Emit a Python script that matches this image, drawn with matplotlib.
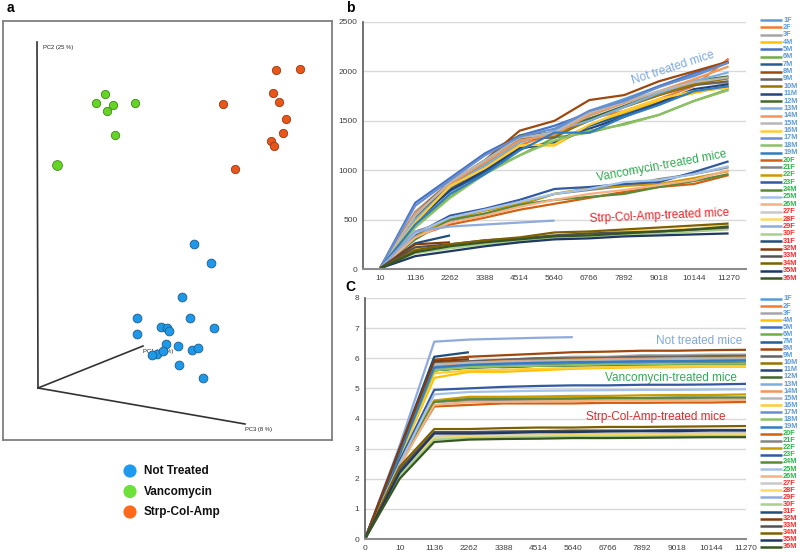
import numpy as np
import matplotlib
matplotlib.use("Agg")
import matplotlib.pyplot as plt

plt.rcParams['font.family'] = ['Liberation Sans', 'DejaVu Sans']

# ---------------- data ----------------
# Panel a: projected PCoA positions (view coordinates)
nt_x = [194, 211, 182, 137, 137, 161, 167, 169, 190, 214, 166, 178, 192, 198, 157, 163, 179, 203, 152]
nt_y = [244, 263, 297, 318, 334, 327, 328, 331, 318, 328, 344, 346, 350, 348, 354, 351, 365, 378, 355]
vanco_x = [105, 96, 113, 107, 135, 115, 57]
vanco_y = [94, 103, 105, 111, 103, 135, 165]
strp_x = [223, 235, 276, 300, 273, 279, 286, 283, 271, 274]
strp_y = [104, 169, 70, 69, 93, 102, 119, 133, 141, 146]
group_names = ["Not Treated", "Vancomycin", "Strp-Col-Amp"]

# Panels b / c
labels = ["1F", "2F", "3F", "4M", "5M", "6M", "7M", "8M", "9M", "10M", "11M", "12M",
          "13M", "14M", "15M", "16M", "17M", "18M", "19M", "20F", "21F", "22F", "23F",
          "24M", "25M", "26M", "27F", "28F", "29F", "30F", "31F", "32M", "33M", "34M",
          "35M", "36M"]
series_colors = ["#5B9BD5", "#ED7D31", "#A5A5A5", "#FFC000", "#4472C4", "#70AD47",
                 "#255E91", "#9E480E", "#636363", "#997300", "#264478", "#43682B",
                 "#7CAFDD", "#F1975A", "#B7B7B7", "#FFCD33", "#698ED0", "#8CC168",
                 "#327DC2", "#D26012", "#848484", "#CC9A00", "#335AA1", "#5A8A39",
                 "#A2C2E7", "#F4B183", "#C9C9C9", "#FFD966", "#8FAADC", "#A9D18E",
                 "#1E4E79", "#843C0C", "#525252", "#7F6000", "#203864", "#375623"]
groups = ["nt"] * 19 + ["v"] * 7 + ["s"] * 10

depth_b = ["10", "1136", "2262", "3388", "4514", "5640", "6766", "7892", "9018", "10144", "11270"]
depth_c = ["0", "10", "1136", "2262", "3388", "4514", "5640", "6766", "7892", "9018", "10144", "11270"]

N = None
observed = [
    [15, 520, 820, 1040, 1280, 1400, 1600, 1720, 1850, 1950, 2090],
    [12, 560, 850, 1060, 1250, 1380, 1520, 1600, 1720, 1850, 2130],
    [14, 580, 880, 1080, 1320, 1350, 1550, 1680, 1800, 1880, 1880],
    [12, 480, 800, 1000, 1250, 1250, 1450, 1580, 1700, 1780, 1850],
    [15, 670, 920, 1170, 1350, 1450, 1580, 1700, 1850, 1980, 2100],
    [12, 450, 730, 980, 1150, 1330, 1380, 1470, 1560, 1700, 1820],
    [13, 510, 790, 980, 1220, 1280, 1450, 1560, 1680, 1800, 1840],
    [15, 560, 880, 1100, 1400, 1500, 1710, 1760, 1900, 2000, 2100],
    [13, 520, 850, 1080, 1320, 1330, 1520, 1640, 1760, 1860, 1900],
    [12, 500, 820, 1050, 1300, 1350, 1500, 1640, 1760, 1870, 1930],
    [13, 470, 800, 1000, 1220, 1280, 1420, 1540, 1680, 1820, 1870],
    [14, 540, 870, 1100, 1350, 1380, 1520, 1650, 1780, 1900, 1950],
    [12, 500, 830, 1050, 1280, 1400, 1500, 1640, 1780, 1900, 1990],
    [14, 560, 860, 1080, 1300, 1360, 1560, 1680, 1800, 1920, 2050],
    [13, 540, 880, 1100, 1330, 1380, 1580, 1690, 1800, 1890, 1940],
    [12, 470, 840, 1020, 1250, 1260, 1460, 1600, 1720, 1800, 1830],
    [15, 640, 900, 1150, 1340, 1420, 1600, 1700, 1840, 1960, 2090],
    [12, 420, 720, 960, 1150, 1300, 1400, 1460, 1560, 1700, 1810],
    [13, 450, 760, 960, 1200, 1380, 1380, 1540, 1660, 1800, 1850],
    [10, 330, 450, 520, 600, 660, 720, 780, 830, 860, 950],
    [10, 380, 490, 560, 650, 760, 800, 840, 910, 960, 1030],
    [10, 340, 510, 590, 660, 760, 820, 840, 860, 920, 990],
    [10, 350, 540, 610, 700, 810, 830, 860, 880, 980, 1090],
    [10, 300, 500, 560, 650, 700, 730, 760, 830, 890, 960],
    [10, 360, 520, 600, 680, 760, 810, 880, 900, 960, 1040],
    [10, 320, 470, 540, 630, 700, 760, 800, 850, 900, 1000],
    [8, 180, 220, 260, 290, 330, 340, 360, 370, 390, 420],
    [8, 200, 230, 280, 300, 340, 360, 380, 390, 410, 440],
    [8, 380, 430, 450, 470, 490, N, N, N, N, N],
    [8, 160, 210, 250, 280, 320, 330, 350, 360, 380, 400],
    [8, 260, 340, N, N, N, N, N, N, N, N],
    [8, 250, 270, N, N, N, N, N, N, N, N],
    [8, 220, 250, 290, 310, 340, 360, 370, 380, 400, 420],
    [8, 190, 250, 290, 320, 370, 380, 400, 420, 440, 460],
    [8, 130, 180, 230, 270, 300, 310, 330, 340, 350, 360],
    [8, 170, 230, 270, 300, 330, 340, 360, 380, 400, 430],
]
shannon = [
    [0, 2.9, 5.75, 5.85, 5.9, 5.95, 6.0, 6.0, 6.02, 6.03, 6.05, 6.05],
    [0, 2.9, 5.7, 5.8, 5.85, 5.9, 5.9, 5.92, 5.95, 5.95, 5.97, 5.98],
    [0, 2.8, 5.8, 5.9, 5.95, 6.0, 6.05, 6.05, 6.1, 6.1, 6.12, 6.12],
    [0, 2.7, 5.35, 5.55, 5.55, 5.6, 5.65, 5.68, 5.7, 5.7, 5.72, 5.72],
    [0, 2.9, 5.75, 5.8, 5.85, 5.85, 5.9, 5.9, 5.92, 5.93, 5.95, 5.95],
    [0, 2.8, 5.6, 5.7, 5.72, 5.75, 5.78, 5.8, 5.82, 5.82, 5.83, 5.84],
    [0, 2.9, 5.65, 5.75, 5.7, 5.75, 5.78, 5.8, 5.8, 5.82, 5.82, 5.83],
    [0, 3.0, 5.95, 6.05, 6.1, 6.15, 6.2, 6.22, 6.25, 6.25, 6.27, 6.28],
    [0, 2.9, 5.85, 5.9, 5.95, 6.0, 6.0, 6.02, 6.05, 6.05, 6.07, 6.08],
    [0, 2.8, 5.8, 5.85, 5.9, 5.95, 5.95, 5.98, 6.0, 6.0, 6.02, 6.02],
    [0, 2.9, 5.6, 5.7, 5.75, 5.78, 5.8, 5.8, 5.82, 5.82, 5.84, 5.85],
    [0, 2.8, 5.6, 5.68, 5.72, 5.75, 5.75, 5.77, 5.78, 5.8, 5.8, 5.8],
    [0, 2.9, 5.7, 5.8, 5.85, 5.9, 5.92, 5.95, 5.97, 5.98, 6.0, 6.0],
    [0, 2.8, 5.75, 5.85, 5.9, 5.92, 5.95, 5.97, 5.98, 6.0, 6.0, 6.02],
    [0, 2.8, 5.8, 5.85, 5.88, 5.9, 5.92, 5.95, 5.95, 5.97, 5.98, 5.98],
    [0, 2.7, 5.5, 5.6, 5.62, 5.65, 5.68, 5.7, 5.72, 5.73, 5.74, 5.75],
    [0, 2.9, 5.65, 5.75, 5.8, 5.82, 5.85, 5.87, 5.88, 5.9, 5.9, 5.92],
    [0, 2.8, 5.6, 5.7, 5.73, 5.75, 5.77, 5.8, 5.8, 5.82, 5.82, 5.83],
    [0, 2.8, 5.7, 5.78, 5.82, 5.85, 5.87, 5.88, 5.9, 5.9, 5.92, 5.93],
    [0, 2.5, 4.4, 4.45, 4.5, 4.5, 4.5, 4.52, 4.52, 4.53, 4.53, 4.55],
    [0, 2.5, 4.55, 4.6, 4.62, 4.62, 4.63, 4.63, 4.64, 4.65, 4.65, 4.65],
    [0, 2.6, 4.6, 4.72, 4.72, 4.73, 4.75, 4.75, 4.77, 4.78, 4.78, 4.8],
    [0, 2.6, 4.95, 5.0, 5.05, 5.08, 5.1, 5.1, 5.12, 5.12, 5.13, 5.15],
    [0, 2.5, 4.55, 4.65, 4.65, 4.66, 4.67, 4.68, 4.68, 4.7, 4.7, 4.7],
    [0, 2.5, 4.8, 4.88, 4.9, 4.92, 4.93, 4.94, 4.95, 4.95, 4.96, 4.97],
    [0, 2.4, 4.45, 4.55, 4.55, 4.57, 4.58, 4.6, 4.6, 4.6, 4.62, 4.62],
    [0, 2.2, 3.4, 3.45, 3.47, 3.48, 3.5, 3.5, 3.5, 3.52, 3.52, 3.53],
    [0, 2.3, 3.35, 3.4, 3.42, 3.43, 3.45, 3.45, 3.46, 3.47, 3.47, 3.48],
    [0, 3.1, 6.55, 6.62, 6.65, 6.68, 6.7, N, N, N, N, N],
    [0, 2.1, 3.3, 3.35, 3.37, 3.38, 3.4, 3.4, 3.4, 3.42, 3.42, 3.42],
    [0, 3.0, 6.05, 6.2, N, N, N, N, N, N, N, N],
    [0, 3.0, 5.9, 5.97, N, N, N, N, N, N, N, N],
    [0, 2.3, 3.55, 3.55, 3.57, 3.58, 3.6, 3.6, 3.6, 3.62, 3.62, 3.62],
    [0, 2.4, 3.65, 3.65, 3.68, 3.7, 3.7, 3.72, 3.72, 3.73, 3.74, 3.75],
    [0, 2.2, 3.5, 3.5, 3.52, 3.55, 3.55, 3.57, 3.58, 3.58, 3.6, 3.6],
    [0, 2.0, 3.22, 3.3, 3.32, 3.33, 3.35, 3.35, 3.36, 3.37, 3.38, 3.38],
]

# ---------------- figure ----------------
W, H = 800, 554
fig = plt.figure(figsize=(8, 5.54), dpi=100)


def fbox(x0, y0, x1, y1):
    return [x0 / W, 1 - y1 / H, (x1 - x0) / W, (y1 - y0) / H]


# ---- panel a ----
axa = fig.add_axes(fbox(3, 21, 332, 440))
axa.set_xlim(3, 332)
axa.set_ylim(440, 21)
axa.set_xticks([])
axa.set_yticks([])
for s in axa.spines.values():
    s.set_color("#7f7f7f")
    s.set_linewidth(1.3)
axc = "#333333"
axa.plot([37, 38], [42, 388], color=axc, lw=1.2)
axa.plot([38, 143], [388, 346], color=axc, lw=1.2)
axa.plot([38, 245], [388, 424], color=axc, lw=1.2)
axa.text(43, 48, "PC2 (25 %)", fontsize=4.2, color="#222222", va="center")
axa.text(143, 351, "PC1 (48 %)", fontsize=4.2, color="#222222", va="center")
axa.text(245, 429, "PC3 (8 %)", fontsize=4.2, color="#222222", va="center")

axa.scatter(strp_x, strp_y, s=36, c="#E8561A", edgecolors="#9a3a12", linewidths=0.6, zorder=3)
axa.scatter(vanco_x[:-1], vanco_y[:-1], s=36, c="#66D425", edgecolors="#3d8a17", linewidths=0.6, zorder=3)
axa.scatter(vanco_x[-1:], vanco_y[-1:], s=50, c="#66D425", edgecolors="#3d8a17", linewidths=0.6, zorder=3)
axa.scatter(nt_x, nt_y, s=40, c="#1E98E8", edgecolors="#1d5d8a", linewidths=0.6, zorder=3)

fig.text(7 / W, 1 - 8 / H, "a", fontsize=10, fontweight="bold", va="center", ha="left")

# legend for panel a
leg_colors = ["#1E9BEF", "#6EE03A", "#FF6A1A"]
axl = fig.add_axes(fbox(110, 455, 260, 525))
axl.set_xlim(110, 260)
axl.set_ylim(525, 455)
axl.axis("off")
for i, (name, col) in enumerate(zip(group_names, leg_colors)):
    yy = 471 + i * 20.5
    axl.scatter([130], [yy], s=90, c=col, edgecolors="none")
    axl.text(144, yy, name, fontsize=8.5, fontweight="bold", va="center", ha="left", color="#111111")

# ---- panels b, c ----
grid_col = "#D9D9D9"
tick_col = "#404040"


def style_line_axes(ax):
    ax.grid(axis="y", color=grid_col, lw=1.0)
    ax.set_axisbelow(True)
    for k in ["top", "right"]:
        ax.spines[k].set_visible(False)
    ax.spines["left"].set_color("#595959")
    ax.spines["left"].set_linewidth(1.2)
    ax.spines["bottom"].set_color("#8c8c8c")
    ax.spines["bottom"].set_linewidth(1.5)
    ax.tick_params(length=0, labelsize=6, colors=tick_col, pad=4)


axb = fig.add_axes(fbox(363, 22, 746, 269))
xb = np.arange(len(depth_b))
for vals, col in zip(observed, series_colors):
    axb.plot(xb, np.array(vals, dtype=float), color=col, lw=1.6, solid_capstyle="butt")
axb.set_xlim(-0.5, len(depth_b) - 0.5)
axb.set_ylim(0, 2500)
axb.set_yticks(np.arange(0, 2501, 500))
axb.set_xticks(xb)
axb.set_xticklabels(depth_b)
style_line_axes(axb)
fig.text(346 / W, 1 - 8 / H, "b", fontsize=10, fontweight="bold", va="center", ha="left")

ann_blue = "#7EA9DD"
ann_green = "#33AA55"
ann_red = "#E8272B"
axb.text(0.81, 0.815, "Not treated mice", transform=axb.transAxes, rotation=18,
         fontsize=8.5, color=ann_blue, ha="center", va="center")
axb.text(0.78, 0.415, "Vancomycin-treated mice", transform=axb.transAxes, rotation=10.5,
         fontsize=8.5, color=ann_green, ha="center", va="center")
axb.text(0.775, 0.215, "Strp-Col-Amp-treated mice", transform=axb.transAxes, rotation=2.5,
         fontsize=8.5, color=ann_red, ha="center", va="center")

axcc = fig.add_axes(fbox(365, 298, 746, 539))
xc = np.arange(len(depth_c))
for vals, col in zip(shannon, series_colors):
    axcc.plot(xc, np.array(vals, dtype=float), color=col, lw=1.6, solid_capstyle="butt")
axcc.set_xlim(0, len(depth_c) - 1)
axcc.set_ylim(0, 8)
axcc.set_yticks(np.arange(0, 9, 1))
axcc.set_xticks(xc)
axcc.set_xticklabels(depth_c)
style_line_axes(axcc)
fig.text(345 / W, 1 - 287 / H, "C", fontsize=10, fontweight="bold", va="center", ha="left")

axcc.text(0.99, 0.82, "Not treated mice", transform=axcc.transAxes,
          fontsize=8.5, color=ann_blue, ha="right", va="center")
axcc.text(0.975, 0.67, "Vancomycin-treated mice", transform=axcc.transAxes,
          fontsize=8.5, color=ann_green, ha="right", va="center")
axcc.text(0.945, 0.505, "Strp-Col-Amp-treated mice", transform=axcc.transAxes,
          fontsize=8.5, color=ann_red, ha="right", va="center")

# ---- series legends ----
lab_cols = {"nt": "#5B9BD5", "v": "#2DB34A", "s": "#FF2A2A"}


def draw_series_legend(y_top, y_bot):
    ax = fig.add_axes(fbox(758, y_top - 4, 800, y_bot + 4))
    ax.set_xlim(758, 800)
    ax.set_ylim(y_bot + 4, y_top - 4)
    ax.axis("off")
    n = len(labels)
    step = (y_bot - y_top) / (n - 1)
    for i, (lab, col, g) in enumerate(zip(labels, series_colors, groups)):
        yy = y_top + i * step
        ax.plot([760, 782], [yy, yy], color=col, lw=1.8, solid_capstyle="butt")
        ax.text(783, yy, lab, fontsize=5.3, fontweight="bold", color=lab_cols[g],
                va="center", ha="left")


draw_series_legend(20, 278)
draw_series_legend(299, 547)

fig.savefig("out.png", dpi=100)
